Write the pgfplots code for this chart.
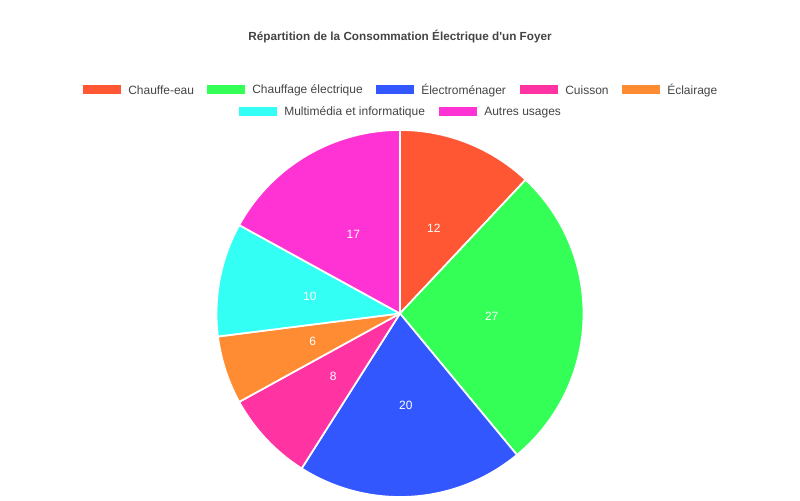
\documentclass[border=0pt]{standalone}
\usepackage{fontspec}
\setmainfont{Liberation Sans}
\newfontfamily\plainfont{Liberation Sans}
\usepackage{pgfplots}
\usepackage{pgfplotstable}
\pgfplotsset{compat=1.18}

\definecolor{slice0}{HTML}{FF5733}
\definecolor{slice1}{HTML}{33FF57}
\definecolor{slice2}{HTML}{3357FF}
\definecolor{slice3}{HTML}{FF33A1}
\definecolor{slice4}{HTML}{FF8C33}
\definecolor{slice5}{HTML}{33FFF5}
\definecolor{slice6}{HTML}{FF33D4}
\definecolor{txtgray}{HTML}{444444}

% share of each usage, in %
\pgfplotstableread[col sep=comma]{
name,value
Chauffe-eau,12
Chauffage électrique,27
Électroménager,20
Cuisson,8
Éclairage,6
Multimédia et informatique,10
Autres usages,17
}\piedata

\newcommand\legfont{\fontsize{9}{11}\selectfont}
\newcommand\slicefont{\fontsize{9}{11}\selectfont}

\begin{document}
\begin{tikzpicture}
\begin{axis}[
    width=600pt, height=375pt, scale only axis,
    xmin=0, xmax=800, ymin=0, ymax=500,
    hide axis, clip=false,
    ]
    \path (rel axis cs:0,0) rectangle (rel axis cs:1,1);

    % total of all slices
    \def\total{0}
    \pgfplotsforeachungrouped \i in {0,...,6}{
        \pgfplotstablegetelem{\i}{value}\of\piedata
        \pgfmathsetmacro\total{\total+\pgfplotsretval}
    }

    % slices, clockwise from 12 o'clock
    \def\angacc{90}
    \pgfplotsforeachungrouped \i in {0,...,6}{
        \pgfplotstablegetelem{\i}{value}\of\piedata
        \let\v\pgfplotsretval
        \pgfmathsetmacro\aend{\angacc-360*\v/\total}
        \pgfmathsetmacro\amid{(\angacc+\aend)/2}
        \pgfmathsetmacro\lx{400+91.75*cos(\amid)}
        \pgfmathsetmacro\ly{186.5+91.75*sin(\amid)}
        \edef\temp{%
            \noexpand\addplot[fill=slice\i, draw=white, line width=1.3pt,
                line join=round, mark=none, domain=\aend:\angacc, samples=80,
                variable=\noexpand\t]
                ({400+183.5*cos(\noexpand\t)},{186.5+183.5*sin(\noexpand\t)})
                -- (400,186.5) -- cycle;
            \noexpand\node[text=white, font=\noexpand\slicefont]
                at (axis cs:\lx,\ly) {\v};
        }
        \temp
        \let\angacc\aend
    }

    % title
    \node[text=txtgray, font=\plainfont\fontsize{8.8}{11}\selectfont\bfseries]
        at (axis cs:400,463) {Répartition de la Consommation Électrique d'un Foyer};

    % legend
    \fill[slice0] (axis cs:83,405.5) rectangle (axis cs:121,415);
    \node[anchor=west, inner sep=0, text=txtgray, font=\legfont] at (axis cs:128,409.3) {Chauffe-eau};
    \fill[slice1] (axis cs:207,405.5) rectangle (axis cs:245,415);
    \node[anchor=west, inner sep=0, text=txtgray, font=\legfont] at (axis cs:252,409.3) {Chauffage électrique};
    \fill[slice2] (axis cs:376,405.5) rectangle (axis cs:414,415);
    \node[anchor=west, inner sep=0, text=txtgray, font=\legfont] at (axis cs:421,409.3) {Électroménager};
    \fill[slice3] (axis cs:520,405.5) rectangle (axis cs:558,415);
    \node[anchor=west, inner sep=0, text=txtgray, font=\legfont] at (axis cs:565,409.3) {Cuisson};
    \fill[slice4] (axis cs:622,405.5) rectangle (axis cs:660,415);
    \node[anchor=west, inner sep=0, text=txtgray, font=\legfont] at (axis cs:667,409.3) {Éclairage};
    \fill[slice5] (axis cs:239,383.5) rectangle (axis cs:277,393);
    \node[anchor=west, inner sep=0, text=txtgray, font=\legfont] at (axis cs:284,387.3) {Multimédia et informatique};
    \fill[slice6] (axis cs:439,383.5) rectangle (axis cs:477,393);
    \node[anchor=west, inner sep=0, text=txtgray, font=\legfont] at (axis cs:484,387.3) {Autres usages};
\end{axis}
\end{tikzpicture}
\end{document}
